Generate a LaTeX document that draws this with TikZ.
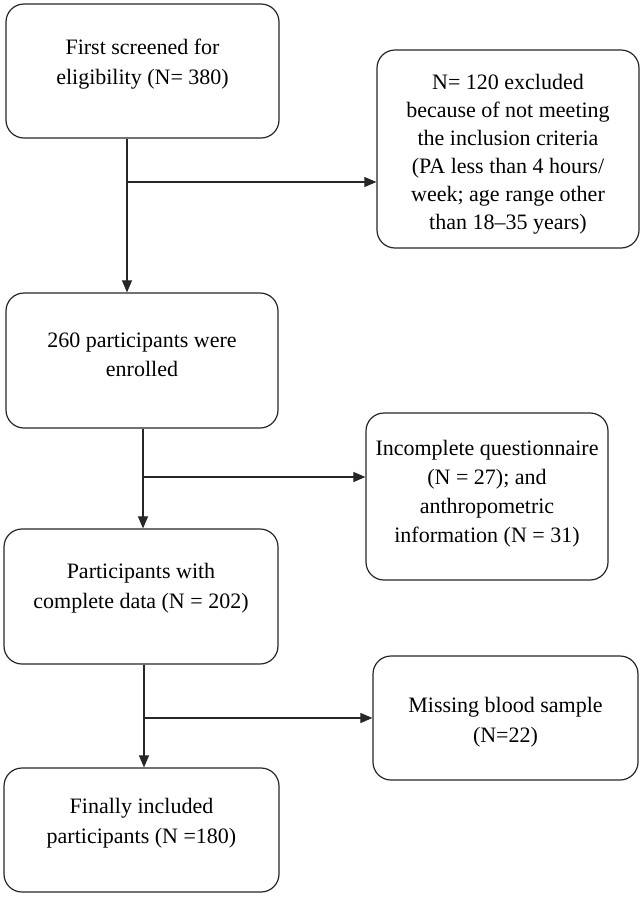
\documentclass[tikz,border=0pt]{standalone}
\usepackage{fontspec}
\setmainfont{Liberation Serif}
\usetikzlibrary{arrows.meta}
\begin{document}
\begin{tikzpicture}[x=1pt,y=-1pt,
  box/.style={draw=black!85,line width=1.2pt,rounded corners=18pt,inner sep=0pt},
  txt/.style={align=center,font=\fontsize{22}{29.5}\selectfont,inner sep=0pt},
  arr/.style={draw=black!85,line width=1.1pt,-{Triangle[length=12pt,width=10pt]}}]
\useasboundingbox (0,0) rectangle (644,898);
\node[box,minimum width=273pt,minimum height=134pt] (b1) at (142.5,71) {};
\node[txt] (t1) at (142.5,64) {First screened for\\eligibility (N= 380)};
\node[box,minimum width=262pt,minimum height=198pt] (b2) at (508,149) {};
\node[txt,font=\fontsize{22}{28}\selectfont] (t2) at (508,154) {N= 120 excluded\\because of not meeting\\the inclusion criteria\\(PA less than 4 hours/\\week; age range other\\than 18--35 years)};
\node[box,minimum width=272pt,minimum height=135pt] (b3) at (142,360.5) {};
\node[txt] (t3) at (142,355) {260 participants were\\enrolled};
\node[box,minimum width=242pt,minimum height=167pt] (b4) at (487,496.5) {};
\node[txt,font=\fontsize{22}{29}\selectfont] (t4) at (487,494) {Incomplete questionnaire\\(N = 27); and\\anthropometric\\information (N = 31)};
\node[box,minimum width=274pt,minimum height=135pt] (b5) at (141,596.5) {};
\node[txt] (t5) at (141,588) {Participants with\\complete data (N = 202)};
\node[box,minimum width=265pt,minimum height=124pt] (b6) at (505.5,718) {};
\node[txt] (t6) at (505.5,722) {Missing blood sample\\(N=22)};
\node[box,minimum width=275pt,minimum height=124pt] (b7) at (141.5,830) {};
\node[txt] (t7) at (141.5,823) {Finally included\\participants (N =180)};
\coordinate (j1) at (127,182);
\coordinate (j2) at (143,477);
\coordinate (j3) at (144,718);
\draw[arr] (j1 |- b1.south) -- (j1 |- b3.north);
\draw[arr] (j1) -- (j1 -| b2.west);
\draw[arr] (j2 |- b3.south) -- (j2 |- b5.north);
\draw[arr] (j2) -- (j2 -| b4.west);
\draw[arr] (j3 |- b5.south) -- (j3 |- b7.north);
\draw[arr] (j3) -- (j3 -| b6.west);
\end{tikzpicture}
\end{document}
